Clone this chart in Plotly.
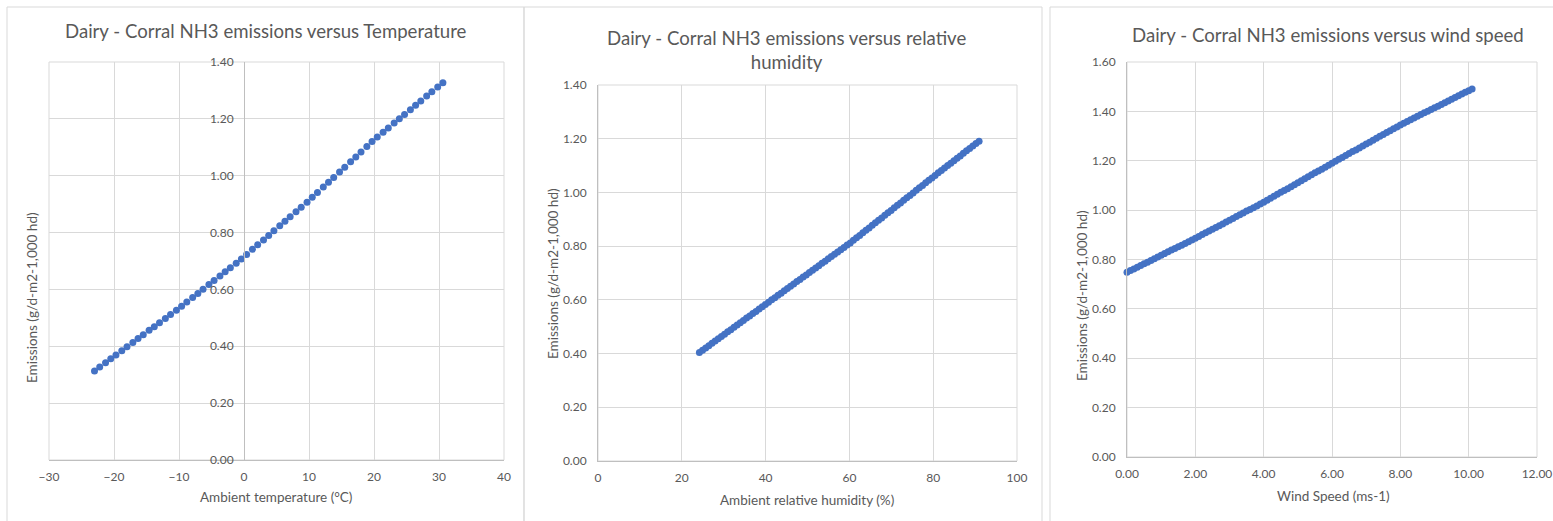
import plotly.graph_objects as go

W, H = 1553, 521

# ---------------- data ----------------
temp_c = [-23.0, -22.2, -21.3, -20.5, -19.7, -18.8, -18.0, -17.1, -16.3, -15.5,
          -14.6, -13.8, -13.0, -12.1, -11.3, -10.4, -9.6, -8.8, -7.9, -7.1,
          -6.3, -5.4, -4.6, -3.7, -2.9, -2.1, -1.2, -0.4, 0.4, 1.3,
          2.1, 3.0, 3.8, 4.6, 5.5, 6.3, 7.1, 8.0, 8.8, 9.7,
          10.5, 11.3, 12.2, 13.0, 13.8, 14.7, 15.5, 16.4, 17.2, 18.0,
          18.9, 19.7, 20.5, 21.4, 22.2, 23.1, 23.9, 24.7, 25.6, 26.4,
          27.2, 28.1, 28.9, 29.8, 30.6]
emis_temp = [0.313, 0.327, 0.342, 0.356, 0.369, 0.384, 0.398, 0.413, 0.427, 0.441,
             0.456, 0.469, 0.483, 0.498, 0.512, 0.527, 0.541, 0.556, 0.572, 0.586,
             0.601, 0.617, 0.631, 0.647, 0.662, 0.676, 0.692, 0.707, 0.723, 0.741,
             0.757, 0.774, 0.790, 0.806, 0.824, 0.840, 0.856, 0.873, 0.889, 0.907,
             0.924, 0.941, 0.960, 0.977, 0.994, 1.013, 1.030, 1.049, 1.066, 1.083,
             1.103, 1.120, 1.136, 1.153, 1.168, 1.185, 1.200, 1.215, 1.232, 1.248,
             1.263, 1.280, 1.295, 1.312, 1.327]

rh_pct = [24.20, 24.95, 25.70, 26.45, 27.20, 27.95, 28.70, 29.45, 30.20, 30.95,
          31.70, 32.45, 33.20, 33.95, 34.70, 35.45, 36.20, 36.95, 37.70, 38.45,
          39.20, 39.95, 40.70, 41.45, 42.20, 42.95, 43.70, 44.45, 45.20, 45.95,
          46.70, 47.45, 48.20, 48.95, 49.70, 50.45, 51.20, 51.95, 52.70, 53.45,
          54.20, 54.95, 55.70, 56.45, 57.20, 57.95, 58.70, 59.45, 60.20, 60.95,
          61.70, 62.45, 63.20, 63.95, 64.70, 65.45, 66.20, 66.95, 67.70, 68.45,
          69.20, 69.95, 70.70, 71.45, 72.20, 72.95, 73.70, 74.45, 75.20, 75.95,
          76.70, 77.45, 78.20, 78.95, 79.70, 80.45, 81.20, 81.95, 82.70, 83.45,
          84.20, 84.95, 85.70, 86.45, 87.20, 87.95, 88.70, 89.45, 90.20, 90.95]
emis_rh = [0.404, 0.412, 0.421, 0.429, 0.438, 0.447, 0.455, 0.464, 0.472, 0.481,
           0.489, 0.498, 0.506, 0.515, 0.523, 0.532, 0.540, 0.549, 0.557, 0.566,
           0.574, 0.583, 0.591, 0.600, 0.608, 0.617, 0.625, 0.634, 0.642, 0.651,
           0.659, 0.668, 0.676, 0.685, 0.693, 0.702, 0.710, 0.719, 0.727, 0.736,
           0.744, 0.753, 0.761, 0.770, 0.778, 0.787, 0.795, 0.804, 0.812, 0.822,
           0.831, 0.840, 0.850, 0.859, 0.868, 0.878, 0.887, 0.896, 0.905, 0.915,
           0.924, 0.933, 0.943, 0.952, 0.961, 0.971, 0.980, 0.989, 0.998, 1.008,
           1.017, 1.026, 1.036, 1.045, 1.054, 1.063, 1.073, 1.082, 1.091, 1.100,
           1.109, 1.118, 1.127, 1.136, 1.146, 1.155, 1.164, 1.173, 1.182, 1.191]

wind_ms = [0.0, 0.1, 0.2, 0.3, 0.4, 0.5, 0.6, 0.7, 0.8, 0.9,
           1.0, 1.1, 1.2, 1.3, 1.4, 1.5, 1.6, 1.7, 1.8, 1.9,
           2.0, 2.1, 2.2, 2.3, 2.4, 2.5, 2.6, 2.7, 2.8, 2.9,
           3.0, 3.1, 3.2, 3.3, 3.4, 3.5, 3.6, 3.7, 3.8, 3.9,
           4.0, 4.1, 4.2, 4.3, 4.4, 4.5, 4.6, 4.7, 4.8, 4.9,
           5.0, 5.1, 5.2, 5.3, 5.4, 5.5, 5.6, 5.7, 5.8, 5.9,
           6.0, 6.1, 6.2, 6.3, 6.4, 6.5, 6.6, 6.7, 6.8, 6.9,
           7.0, 7.1, 7.2, 7.3, 7.4, 7.5, 7.6, 7.7, 7.8, 7.9,
           8.0, 8.1, 8.2, 8.3, 8.4, 8.5, 8.6, 8.7, 8.8, 8.9,
           9.0, 9.1, 9.2, 9.3, 9.4, 9.5, 9.6, 9.7, 9.8, 9.9,
           10.0, 10.1]
emis_wind = [0.748, 0.755, 0.762, 0.769, 0.776, 0.783, 0.789, 0.796, 0.803, 0.810,
             0.817, 0.824, 0.831, 0.838, 0.845, 0.852, 0.858, 0.865, 0.872, 0.879,
             0.886, 0.893, 0.901, 0.908, 0.915, 0.923, 0.930, 0.937, 0.944, 0.952,
             0.959, 0.966, 0.974, 0.981, 0.988, 0.996, 1.003, 1.010, 1.017, 1.025,
             1.032, 1.040, 1.048, 1.056, 1.064, 1.072, 1.079, 1.087, 1.095, 1.103,
             1.111, 1.119, 1.127, 1.135, 1.143, 1.151, 1.158, 1.166, 1.174, 1.182,
             1.190, 1.198, 1.206, 1.213, 1.221, 1.229, 1.237, 1.244, 1.252, 1.260,
             1.268, 1.275, 1.283, 1.291, 1.299, 1.306, 1.314, 1.322, 1.330, 1.337,
             1.345, 1.352, 1.359, 1.366, 1.373, 1.380, 1.387, 1.394, 1.401, 1.408,
             1.415, 1.421, 1.428, 1.435, 1.442, 1.449, 1.456, 1.463, 1.470, 1.477,
             1.484, 1.491]

titles = ["Dairy - Corral NH3 emissions versus Temperature",
          "Dairy - Corral NH3 emissions versus relative<br>humidity",
          "Dairy - Corral NH3 emissions versus wind speed"]
x_titles = ["Ambient temperature (°C)", "Ambient relative humidity (%)", "Wind Speed (ms-1)"]
y_title = "Emissions (g/d-m2-1,000 hd)"

# ---------------- style ----------------
FONT = "Lato"
TXT = "#595959"
GRID = "#d9d9d9"
AXL = "#bfbfbf"
BLUE = "#4472C4"


def px(x):
    return x / W


def py(y):
    return 1 - y / H


fig = go.Figure()
series = [(temp_c, emis_temp, "x", "y"), (rh_pct, emis_rh, "x2", "y2"), (wind_ms, emis_wind, "x3", "y3")]
for xs, ys, xa, ya in series:
    fig.add_trace(go.Scatter(x=xs, y=ys, xaxis=xa, yaxis=ya, mode="markers",
                             marker=dict(color=BLUE, size=7, line=dict(width=0)),
                             showlegend=False, cliponaxis=False, hoverinfo="x+y"))

tickfont = dict(family=FONT, size=12, color=TXT)
common_x = dict(showgrid=True, gridcolor=GRID, gridwidth=1, zeroline=False, showline=True,
                linecolor=AXL, linewidth=1, ticks="", tickfont=tickfont, ticklabelstandoff=6,
                fixedrange=True, automargin=False, ticklabeloverflow="allow")
common_y = dict(showgrid=True, gridcolor=GRID, gridwidth=1, zeroline=False, showline=True,
                linecolor=AXL, linewidth=1, ticks="", tickfont=tickfont, ticklabelstandoff=8,
                fixedrange=True, tickformat=".2f", automargin=False, ticklabeloverflow="allow")

# panel plot areas (pixels)
p1 = dict(x0=49, x1=504, y0=62, y1=460)
p2 = dict(x0=598, x1=1017, y0=85, y1=461)
p3 = dict(x0=1127, x1=1537, y0=62, y1=457)

fig.update_layout(
    template="none",
    xaxis=dict(domain=[px(p1["x0"]), px(p1["x1"])], range=[-30, 40], dtick=10, tick0=0,
               anchor="y", **common_x),
    yaxis=dict(domain=[py(p1["y1"]), py(p1["y0"])], range=[0, 1.4], dtick=0.2,
               anchor="free", position=px(p1["x0"] + (0 - (-30)) / 70 * (p1["x1"] - p1["x0"])),
               **common_y),
    xaxis2=dict(domain=[px(p2["x0"]), px(p2["x1"])], range=[0, 100], dtick=20,
                anchor="y2", **common_x),
    yaxis2=dict(domain=[py(p2["y1"]), py(p2["y0"])], range=[0, 1.4], dtick=0.2,
                anchor="x2", **common_y),
    xaxis3=dict(domain=[px(p3["x0"]), px(p3["x1"])], range=[0, 12], dtick=2,
                tickformat=".2f", anchor="y3", **common_x),
    yaxis3=dict(domain=[py(p3["y1"]), py(p3["y0"])], range=[0, 1.6], dtick=0.2,
                anchor="x3", **common_y),
)

# chart frames
frames = [(7, 524), (524, 1042), (1050, 1562)]
for x0, x1 in frames:
    fig.add_shape(type="rect", xref="paper", yref="paper", x0=px(x0), x1=px(x1),
                  y0=py(530), y1=py(7), line=dict(color=GRID, width=1), layer="below")

# plot-area borders (gridlines at range edges)
for xa, ya in [("x", "y"), ("x2", "y2"), ("x3", "y3")]:
    fig.add_shape(type="rect", xref=f"{xa} domain", yref=f"{ya} domain", x0=0, x1=1, y0=0, y1=1,
                  line=dict(color=GRID, width=1), layer="below")

ann = []
# titles
title_pos = [(266, 31), (786, 50), (1328, 35)]
for t, (x, y) in zip(titles, title_pos):
    ann.append(dict(text=t, x=px(x), y=py(y), xref="paper", yref="paper", showarrow=False,
                    xanchor="center", yanchor="middle",
                    font=dict(family=FONT, size=18.6, color=TXT)))
# x-axis titles
xt_pos = [(276, 497), (807, 500), (1333, 496)]
for t, (x, y) in zip(x_titles, xt_pos):
    ann.append(dict(text=t, x=px(x), y=py(y), xref="paper", yref="paper", showarrow=False,
                    xanchor="center", yanchor="middle",
                    font=dict(family=FONT, size=13.5, color=TXT)))
# y-axis titles
yt_pos = [(32, 298), (553, 274), (1082, 296)]
for (x, y) in yt_pos:
    ann.append(dict(text=y_title, x=px(x), y=py(y), xref="paper", yref="paper", showarrow=False,
                    textangle=-90, xanchor="center", yanchor="middle",
                    font=dict(family=FONT, size=13.5, color=TXT)))

fig.update_layout(annotations=ann, width=W, height=H, autosize=False,
                  margin=dict(l=0, r=0, t=0, b=0, pad=0),
                  paper_bgcolor="white", plot_bgcolor="white",
                  font=dict(family=FONT, color=TXT), showlegend=False)

fig.write_html("out.html", config={"displayModeBar": False},
               post_script="document.body.style.margin='0';"
                           "document.body.style.overflow='hidden';")
